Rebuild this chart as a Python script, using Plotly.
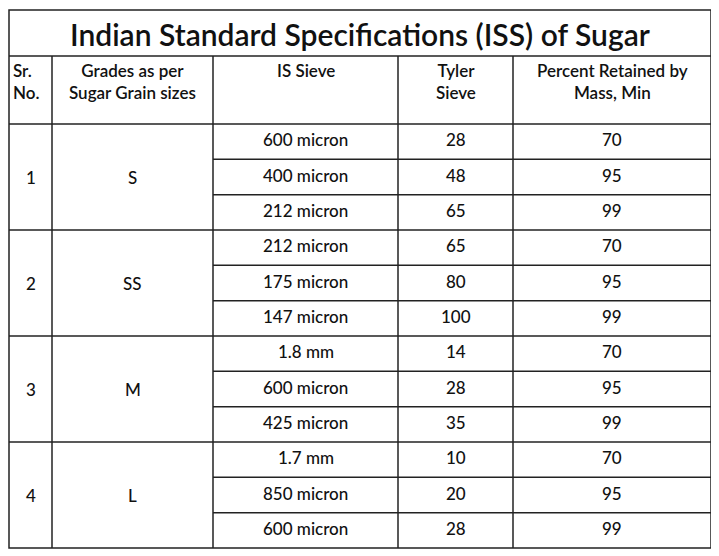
import plotly.graph_objects as go

title = "Indian Standard Specifications (ISS) of Sugar"
headers = ["Sr.<br>No.", "Grades as per<br>Sugar Grain sizes", "IS Sieve", "Tyler<br>Sieve", "Percent Retained by<br>Mass, Min"]
sr_no = ["1", "2", "3", "4"]
grades = ["S", "SS", "M", "L"]
is_sieve = ["600 micron", "400 micron", "212 micron",
            "212 micron", "175 micron", "147 micron",
            "1.8 mm", "600 micron", "425 micron",
            "1.7 mm", "850 micron", "600 micron"]
tyler = ["28", "48", "65", "65", "80", "100", "14", "28", "35", "10", "20", "28"]
retained = ["70", "95", "99"] * 4

# layout geometry (page pixels)
col_x = [9, 52, 213, 398, 513, 711]
top, title_bot, head_bot, bottom = 10, 56, 124, 548
n_rows = len(is_sieve)
row_h = (bottom - head_bot) / n_rows
line_col = "#222222"
off = 8  # page body margin

fig = go.Figure()
shapes = []
ann = []

def hline(y, x0, x1):
    shapes.append(dict(type="line", x0=x0, x1=x1, y0=y, y1=y, line=dict(color=line_col, width=1.5)))

def vline(x, y0, y1):
    shapes.append(dict(type="line", x0=x, x1=x, y0=y0, y1=y1, line=dict(color=line_col, width=1.5)))

shapes.append(dict(type="rect", x0=col_x[0], x1=col_x[-1], y0=top, y1=bottom, line=dict(color=line_col, width=1.5)))
hline(title_bot, col_x[0], col_x[-1])
hline(head_bot, col_x[0], col_x[-1])
for x in col_x[1:-1]:
    vline(x, title_bot, bottom)
for i in range(1, n_rows):
    y = head_bot + i * row_h
    if i % 3 == 0:
        hline(y, col_x[0], col_x[-1])
    else:
        hline(y, col_x[2], col_x[-1])

ann.append(dict(x=(col_x[0] + col_x[-1]) / 2, y=(top + title_bot) / 2 + 1, text=title, showarrow=False,
                font=dict(family="Lato", size=30, color="#111111", weight=600), xanchor="center", yanchor="middle"))

for j, h in enumerate(headers):
    if j == 0:
        x, xa = col_x[0] + 2, "left"
    else:
        x, xa = (col_x[j] + col_x[j + 1]) / 2, "center"
    ann.append(dict(x=x, y=title_bot + 2, text=h, showarrow=False, xanchor=xa, yanchor="top", align=xa,
                    font=dict(family="Lato", size=17, color="#111111", weight=600)))

body_font = dict(family="Lato", size=17, color="#111111", weight=500)
for g in range(len(grades)):
    yc = head_bot + (g * 3 + 1.5) * row_h
    ann.append(dict(x=(col_x[0] + col_x[1]) / 2, y=yc, text=sr_no[g], showarrow=False, font=body_font))
    ann.append(dict(x=(col_x[1] + col_x[2]) / 2, y=yc, text=grades[g], showarrow=False, font=body_font))
for i in range(n_rows):
    yc = head_bot + (i + 0.5) * row_h - 2
    for j, vals in zip([2, 3, 4], [is_sieve, tyler, retained]):
        ann.append(dict(x=(col_x[j] + col_x[j + 1]) / 2, y=yc, text=vals[i], showarrow=False, font=body_font))

fig.update_layout(
    width=719, height=556,
    margin=dict(l=0, r=0, t=0, b=0),
    paper_bgcolor="white", plot_bgcolor="white",
    xaxis=dict(range=[off, 719 + off], visible=False, fixedrange=True),
    yaxis=dict(range=[556 + off, off], visible=False, fixedrange=True),
    shapes=shapes, annotations=ann, showlegend=False,
)
fig.write_html("out.html")
